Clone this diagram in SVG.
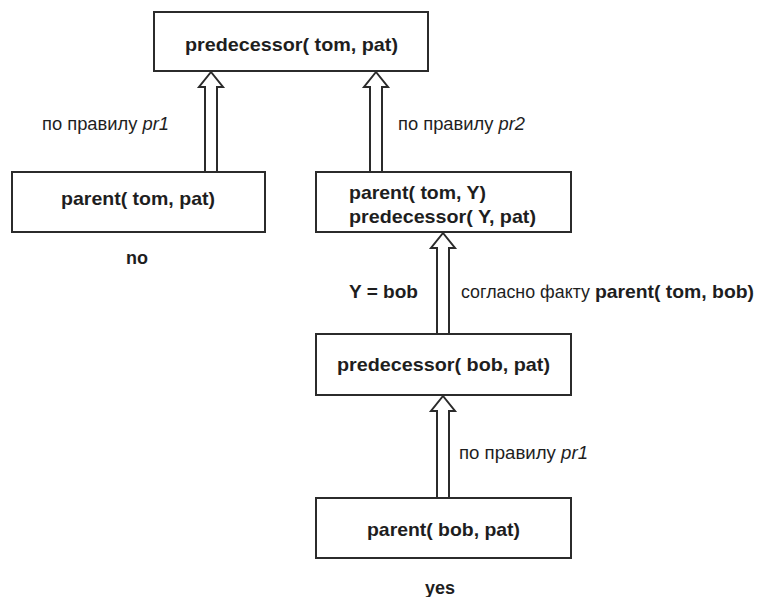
<svg xmlns="http://www.w3.org/2000/svg" width="765" height="597" viewBox="0 0 765 597">
<style>
.box{fill:#fff;stroke:#2b2b2b;stroke-width:2}
.arr{fill:#fff;stroke:#2b2b2b;stroke-width:2;stroke-linejoin:miter}
.b{font-family:"Liberation Sans",Arial,sans-serif;font-weight:bold;font-size:19px;fill:#1e1e1e}
.r{font-family:"Liberation Sans",Arial,sans-serif;font-size:17.5px;fill:#1e1e1e}
.i{font-style:italic}
</style>
<rect width="765" height="597" fill="#fff"/>
<g id="connectors">
<path class="arr" d="M205,172 V87 H199 L211,72 L223,87 H217 V172"/>
<path class="arr" d="M370,172 V87 H364 L376,72 L388,87 H382 V172"/>
<path class="arr" d="M437,334 V248 H431 L443,233 L455,248 H449 V334"/>
<path class="arr" d="M437,498 V411 H431 L443,396 L455,411 H449 V498"/>
<text class="r" x="42" y="130" textLength="127" lengthAdjust="spacingAndGlyphs">по правилу <tspan class="i">pr1</tspan></text>
<text class="r" x="398" y="130" textLength="127" lengthAdjust="spacingAndGlyphs">по правилу <tspan class="i">pr2</tspan></text>
<text class="b" x="349" y="298" textLength="69" lengthAdjust="spacingAndGlyphs">Y = bob</text>
<text class="r" x="461" y="298" textLength="293" lengthAdjust="spacingAndGlyphs">согласно факту <tspan class="b">parent( tom, bob)</tspan></text>
<text class="r" x="459" y="459" textLength="129" lengthAdjust="spacingAndGlyphs">по правилу <tspan class="i">pr1</tspan></text>
</g>
<g id="n1">
<rect class="box" x="154" y="12" width="274" height="59"/>
<text class="b" x="185" y="51" textLength="213" lengthAdjust="spacingAndGlyphs">predecessor( tom, pat)</text>
</g>
<g id="n2">
<rect class="box" x="12" y="172" width="253" height="60"/>
<text class="b" x="61" y="205" textLength="154" lengthAdjust="spacingAndGlyphs">parent( tom, pat)</text>
<text class="b" x="126" y="264" textLength="22" lengthAdjust="spacingAndGlyphs">no</text>
</g>
<g id="n3">
<rect class="box" x="316" y="172" width="255" height="60"/>
<text class="b" x="349" y="199" textLength="137" lengthAdjust="spacingAndGlyphs">parent( tom, Y)</text>
<text class="b" x="349" y="223" textLength="187" lengthAdjust="spacingAndGlyphs">predecessor( Y, pat)</text>
</g>
<g id="n4">
<rect class="box" x="316" y="334" width="255" height="61"/>
<text class="b" x="337" y="371" textLength="213" lengthAdjust="spacingAndGlyphs">predecessor( bob, pat)</text>
</g>
<g id="n5">
<rect class="box" x="316" y="498" width="255" height="60"/>
<text class="b" x="367" y="536" textLength="153" lengthAdjust="spacingAndGlyphs">parent( bob, pat)</text>
<text class="b" x="425" y="594" textLength="30" lengthAdjust="spacingAndGlyphs">yes</text>
</g>
</svg>
